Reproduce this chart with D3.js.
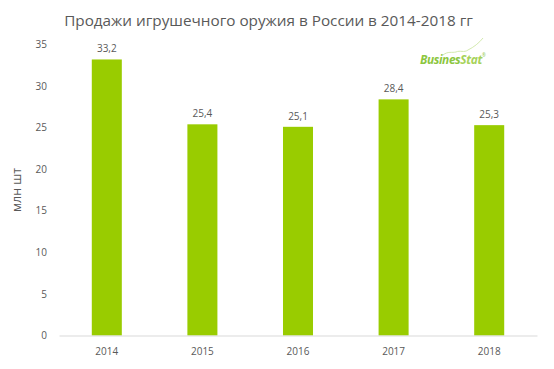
<!DOCTYPE html>
<html><head><meta charset="utf-8">
<script src="https://cdn.jsdelivr.net/npm/d3@7"></script>
<style>body{margin:0;background:#fff}svg{display:block}text{font-family:"Open Sans","Liberation Sans",sans-serif}</style>
</head><body>
<script>
const years = ["2014","2015","2016","2017","2018"];
const values = [33.2, 25.4, 25.1, 28.4, 25.3];
const yTicks = [0,5,10,15,20,25,30,35];
const title = "Продажи игрушечного оружия в России в 2014-2018 гг";
const yLabel = "млн шт";

const W=554,H=369;
const svg=d3.select("body").append("svg").attr("width",W).attr("height",H);
const x=d3.scaleBand().domain(years).range([59,537]).paddingInner(0.686).paddingOuter(0.343);
const y=d3.scaleLinear().domain([0,35]).range([335.5,44.5]);
const grey="#595959";

function fit(sel, target){
  const n=sel.node(); const fs=+sel.attr("font-size");
  const w=n.getComputedTextLength(); if(w>0) sel.attr("font-size",fs*target/w);
}

const t=svg.append("text").attr("x",268.5).attr("y",26).attr("text-anchor","middle")
  .attr("font-size",16).attr("font-family","Lato,'Open Sans',sans-serif").attr("fill",grey).text(title);
fit(t,409);

const ya=svg.append("g").attr("transform","translate(47,0)")
  .call(d3.axisLeft(y).tickValues(yTicks).tickSize(0).tickPadding(0).tickFormat(d3.format("d")));
ya.select(".domain").remove();
ya.selectAll("text").attr("font-size",10).attr("fill",grey).attr("font-family","'Open Sans','Liberation Sans',sans-serif");

const yl=svg.append("text").attr("transform","translate(21,190) rotate(-90)").attr("text-anchor","middle")
  .attr("font-size",11).attr("font-family","Lato,'Open Sans',sans-serif").attr("fill",grey).text(yLabel);
fit(yl,44);

svg.selectAll("rect.bar").data(values).join("rect").attr("class","bar")
  .attr("x",(d,i)=>x(years[i])).attr("width",x.bandwidth())
  .attr("y",d=>y(d)).attr("height",d=>y(0)-y(d)).attr("fill","#99cc00");

svg.selectAll("text.lbl").data(values).join("text").attr("class","lbl")
  .attr("x",(d,i)=>x(years[i])+x.bandwidth()/2).attr("y",d=>y(d)-7)
  .attr("text-anchor","middle").attr("font-size",10).attr("fill",grey)
  .text(d=>d3.format(".1f")(d).replace(".",","));

const xa=svg.append("g").attr("transform",`translate(0,${y(0)})`)
  .call(d3.axisBottom(x).tickSize(0).tickPadding(12));
xa.select(".domain").attr("stroke","#d9d9d9").attr("stroke-width",1);
xa.selectAll("text").attr("font-size",10).attr("fill",grey).attr("font-family","'Open Sans','Liberation Sans',sans-serif");

// logo
const lg=svg.append("g");
lg.append("path").attr("d","M443,55 C448,51 452,53 456,52 C460,50 464,53 468,50 C474,47 479,43 483,38")
  .attr("fill","none").attr("stroke","#c8e39a").attr("stroke-width",0.8);
const lt=lg.append("text").attr("x",420).attr("y",64).attr("font-size",12).attr("font-weight","bold").attr("font-style","italic")
  .attr("fill","#8cc63f").attr("letter-spacing",-0.4)
  .html('Busines<tspan fill="#a6d25a">Stat</tspan>');
fit(lt,62);
lg.append("text").attr("x",482).attr("y",57).attr("font-size",4.5).attr("fill","#8cc63f").text("®");
</script>
</body></html>
